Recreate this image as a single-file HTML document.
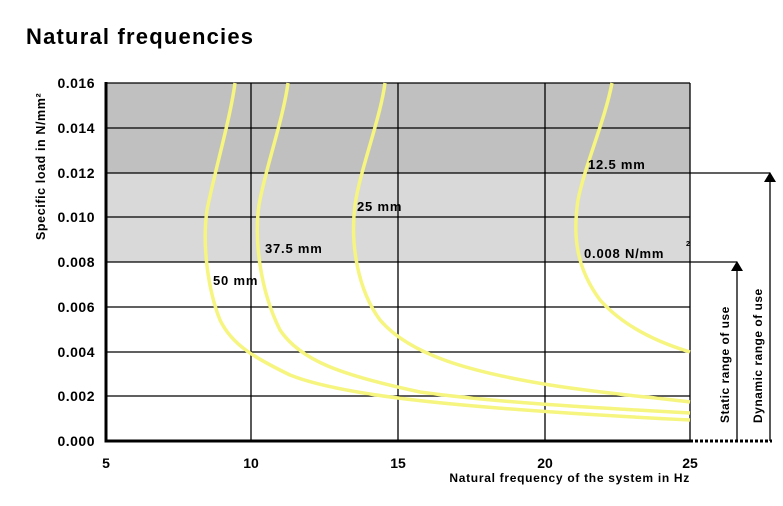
<!DOCTYPE html><html><head><style>body{margin:0;background:#fff}svg text{font-family:"Liberation Sans",sans-serif;font-weight:bold}</style></head><body>
<svg width="783" height="501" viewBox="0 0 783 501" xmlns="http://www.w3.org/2000/svg">
<text x="26" y="44" font-size="22" letter-spacing="1.2">Natural frequencies</text>
<rect x="106" y="83" width="584" height="90" fill="#c0c0c0"/>
<rect x="106" y="173" width="584" height="89" fill="#d9d9d9"/>
<g stroke="#000" stroke-width="1.3">
<line x1="106" y1="83" x2="690" y2="83"/><line x1="106" y1="128" x2="690" y2="128"/><line x1="106" y1="173" x2="770" y2="173"/><line x1="106" y1="217" x2="690" y2="217"/><line x1="106" y1="262" x2="737" y2="262"/><line x1="106" y1="307" x2="690" y2="307"/><line x1="106" y1="352" x2="690" y2="352"/><line x1="106" y1="396" x2="690" y2="396"/>
<line x1="251" y1="83" x2="251" y2="441"/><line x1="398" y1="83" x2="398" y2="441"/><line x1="545" y1="83" x2="545" y2="441"/><line x1="690" y1="83" x2="690" y2="441"/>
<line x1="737" y1="441" x2="737" y2="270"/><line x1="770" y1="441" x2="770" y2="181"/>
</g>
<polygon points="731,271 743,271 737,261" fill="#000"/><polygon points="764,182 776,182 770,172" fill="#000"/>
<line x1="690" y1="441" x2="772" y2="441" stroke="#000" stroke-width="3" stroke-dasharray="3,2"/>
<path d="M106 82 V441 H690" fill="none" stroke="#000" stroke-width="3"/>
<g fill="none" stroke="#f5f580" stroke-width="3.5">
<path d="M235 83 C230 120 215 170 207 210 C202 245 208 290 220 320 C232 345 255 358 290 375 C340 395 450 408 690 420"/>
<path d="M288 83 C283 120 265 170 259 205 C254 240 260 290 280 330 C300 360 340 375 420 392 C500 403 600 408 690 413"/>
<path d="M385 83 C380 120 360 170 355 205 C350 245 358 290 380 320 C410 355 470 372 550 385 C600 393 650 397 690 402"/>
<path d="M612 83 C605 120 585 165 578 200 C572 240 578 270 600 300 C625 328 660 343 690 352"/>
</g>
<g font-size="13" font-weight="normal" letter-spacing="0.8" style="font-weight:600">
<text x="213" y="285">50 mm</text><text x="265" y="253">37.5 mm</text><text x="357" y="211">25 mm</text><text x="588" y="169">12.5 mm</text><text x="584" y="258">0.008 N/mm</text><text x="686" y="246" font-size="7">2</text>
</g>
<g font-size="14" text-anchor="end" letter-spacing="0.5">
<text x="95" y="88">0.016</text><text x="95" y="133">0.014</text><text x="95" y="178">0.012</text><text x="95" y="222">0.010</text><text x="95" y="267">0.008</text><text x="95" y="312">0.006</text><text x="95" y="357">0.004</text><text x="95" y="401">0.002</text><text x="95" y="446">0.000</text>
</g>
<g font-size="14" text-anchor="middle">
<text x="106" y="468">5</text><text x="251" y="468">10</text><text x="398" y="468">15</text><text x="545" y="468">20</text><text x="690" y="468">25</text>
</g>
<text x="690" y="482" font-size="12" letter-spacing="0.7" text-anchor="end">Natural frequency of the system in Hz</text>
<text transform="translate(45,240) rotate(-90)" font-size="12.5" letter-spacing="0.6">Specific load in N/mm²</text>
<text transform="translate(729,423) rotate(-90)" font-size="12" letter-spacing="0.5">Static range of use</text>
<text transform="translate(762,423) rotate(-90)" font-size="12" letter-spacing="0.5">Dynamic range of use</text>
</svg></body></html>
